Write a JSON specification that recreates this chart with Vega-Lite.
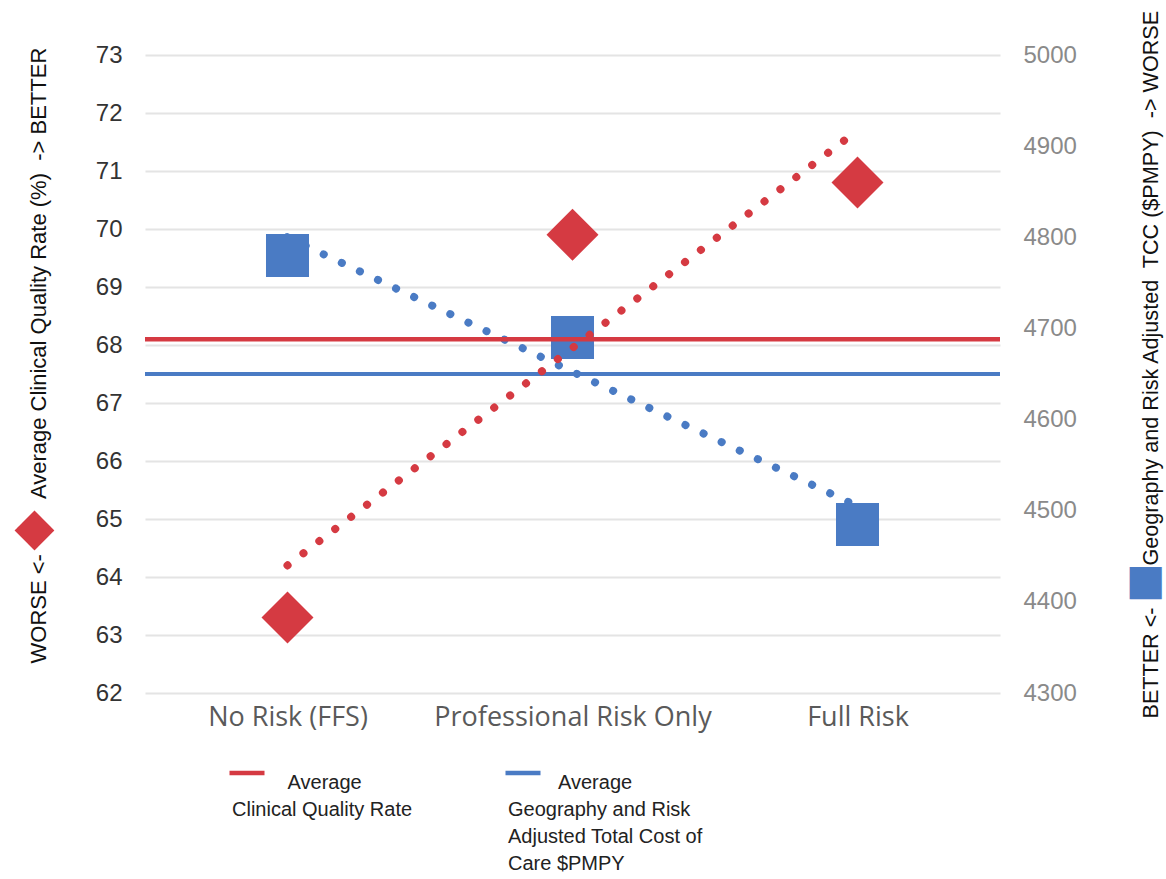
{
  "$schema": "https://vega.github.io/schema/vega-lite/v6.json",
  "width": 855,
  "height": 638,
  "autosize": {"type": "none"},
  "padding": {"left": 145, "top": 55, "right": 166, "bottom": 186},
  "background": "white",
  "config": {"view": {"stroke": null}, "font": "Liberation Sans", "style": {"guide-label": {"lineHeight": 27}}},
  "datasets": {
    "points": [
      {"cat": "No Risk (FFS)", "quality": 63.3, "tcc": 4780},
      {"cat": "Professional Risk Only", "quality": 69.9, "tcc": 4690},
      {"cat": "Full Risk", "quality": 70.8, "tcc": 4485}
    ],
    "trend": [
      {"measure": "quality", "cat": "No Risk (FFS)", "value": 64.2},
      {"measure": "quality", "cat": "Full Risk", "value": 71.7},
      {"measure": "tcc", "cat": "No Risk (FFS)", "value": 4800},
      {"measure": "tcc", "cat": "Full Risk", "value": 4505}
    ],
    "avg": [
      {"measure": "quality", "value": 68.1},
      {"measure": "tcc", "value": 4650}
    ]
  },
  "resolve": {"scale": {"y": "independent"}, "axis": {"y": "independent"}},
  "layer": [
    {
      "layer": [
        {
          "data": {"name": "trend"},
          "transform": [{"filter": "datum.measure == 'tcc'"}],
          "mark": {"type": "line", "color": "#4a7bc4", "strokeWidth": 8, "strokeCap": "round", "strokeDash": [0.1, 19.9]},
          "encoding": {
            "x": {"field": "cat", "type": "ordinal", "scale": {"type": "point", "domain": ["No Risk (FFS)", "Professional Risk Only", "Full Risk"], "padding": 0.5},
              "axis": {"title": null, "labelFont": "Open Sans", "labelFontSize": 27, "labelColor": "#5a5a5a", "labelAngle": 0, "labelLimit": 500, "ticks": false, "domain": false, "grid": false, "labelPadding": 11}},
            "y": {"field": "value", "type": "quantitative", "scale": {"domain": [4300, 5000], "nice": false, "zero": false},
              "axis": {"orient": "right", "values": [4300, 4400, 4500, 4600, 4700, 4800, 4900, 5000], "format": "d", "grid": false, "ticks": false, "domain": false,
                "labelFont": "Liberation Sans", "labelFontSize": 24, "labelColor": "#8a8a8a", "labelPadding": 23,
                "title": "BETTER <-\u00a0\u00a0\u00a0\u00a0\u00a0\u00a0\u00a0Geography and Risk Adjusted\u00a0 TCC ($PMPY)\u00a0 -> WORSE",
                "titleFont": "Liberation Sans", "titleFontSize": 21.6, "titleFontWeight": "normal", "titleColor": "#111",
                "titleAngle": -90, "titleX": 157, "titleY": 663, "titleAlign": "left", "titleBaseline": "alphabetic"}}
          }
        },
        {
          "data": {"name": "avg"},
          "transform": [{"filter": "datum.measure == 'tcc'"}],
          "mark": {"type": "rule", "strokeWidth": 4},
          "encoding": {
            "y": {"field": "value", "type": "quantitative"},
            "color": {"field": "measure", "type": "nominal", "scale": {"domain": ["quality", "tcc"], "range": ["#d53a42", "#4a7bc4"]},
              "legend": {"title": null, "orient": "none", "legendX": 82, "legendY": 698, "direction": "horizontal", "columns": 2, "columnPadding": 83,
                "symbolType": "stroke", "symbolSize": 1225, "symbolStrokeWidth": 4.5, "labelFont": "Liberation Sans", "labelFontSize": 20,
                "labelColor": "#222", "labelBaseline": "top", "labelOffset": -35, "labelLimit": 400, "padding": 0,
                "labelExpr": "datum.value == 'quality' ? ['\u200b\u00a0\u00a0\u00a0\u00a0\u00a0\u00a0\u00a0\u00a0\u00a0\u00a0Average', 'Clinical Quality Rate', '\u200b', '\u200b'] : ['\u200b\u00a0\u00a0\u00a0\u00a0\u00a0\u00a0\u00a0\u00a0\u00a0Average', 'Geography and Risk', 'Adjusted Total Cost of', 'Care $PMPY']"}}
          }
        }
      ]
    },
    {
      "data": {"name": "points"},
      "mark": {"type": "point", "shape": "square", "filled": true, "size": 1850, "color": "#4a7bc4", "opacity": 1},
      "encoding": {
        "x": {"field": "cat", "type": "ordinal"},
        "y": {"field": "tcc", "type": "quantitative", "scale": {"domain": [4300, 5000], "nice": false, "zero": false},
          "axis": {"orient": "right", "labels": false, "ticks": false, "domain": false, "grid": false,
            "title": "\u25a0", "titleColor": "#4a7bc4", "titleFont": "DejaVu Sans", "titleFontSize": 42, "titleFontWeight": "normal",
            "titleAngle": 0, "titleX": 145, "titleY": 525, "titleAlign": "center", "titleBaseline": "middle"}}
      }
    },
    {
      "layer": [
        {
          "data": {"name": "trend"},
          "transform": [{"filter": "datum.measure == 'quality'"}],
          "mark": {"type": "line", "color": "#d53a42", "strokeWidth": 8, "strokeCap": "round", "strokeDash": [0.1, 19.9]},
          "encoding": {
            "x": {"field": "cat", "type": "ordinal"},
            "y": {"field": "value", "type": "quantitative", "scale": {"domain": [62, 73], "nice": false, "zero": false},
              "axis": {"orient": "left", "values": [62, 63, 64, 65, 66, 67, 68, 69, 70, 71, 72, 73], "format": "d", "grid": true, "gridColor": "#e4e4e4", "gridWidth": 2,
                "ticks": false, "domain": false, "labelFont": "Liberation Sans", "labelFontSize": 24, "labelColor": "#333", "labelPadding": 23,
                "title": "WORSE <-\u00a0\u00a0\u00a0\u00a0\u00a0\u00a0\u00a0\u00a0\u00a0Average Clinical Quality Rate (%)\u00a0 -> BETTER",
                "titleFont": "Liberation Sans", "titleFontSize": 22, "titleFontWeight": "normal", "titleColor": "#111",
                "titleAngle": -90, "titleX": -100, "titleY": 608, "titleAlign": "left", "titleBaseline": "alphabetic"}}
          }
        },
        {
          "data": {"name": "avg"},
          "transform": [{"filter": "datum.measure == 'quality'"}],
          "mark": {"type": "rule", "strokeWidth": 4.5},
          "encoding": {
            "y": {"field": "value", "type": "quantitative"},
            "color": {"field": "measure", "type": "nominal"}
          }
        }
      ]
    },
    {
      "data": {"name": "points"},
      "mark": {"type": "point", "shape": "diamond", "filled": true, "size": 2700, "color": "#d53a42", "opacity": 1},
      "encoding": {
        "x": {"field": "cat", "type": "ordinal"},
        "y": {"field": "quality", "type": "quantitative", "scale": {"domain": [62, 73], "nice": false, "zero": false},
          "axis": {"orient": "left", "labels": false, "ticks": false, "domain": false, "grid": false,
            "title": "\u25c6", "titleColor": "#d53a42", "titleFont": "DejaVu Sans", "titleFontSize": 52, "titleFontWeight": "normal",
            "titleAngle": 0, "titleX": -111, "titleY": 472, "titleAlign": "center", "titleBaseline": "middle"}}
      }
    }
  ]
}
